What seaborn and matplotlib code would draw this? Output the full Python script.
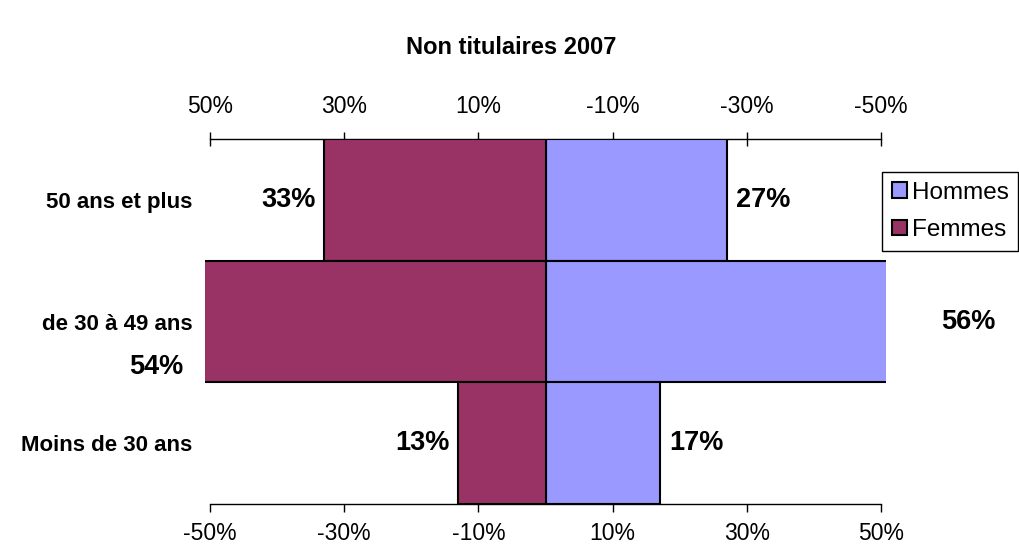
import pandas as pd
import matplotlib.pyplot as plt
import seaborn as sns
from matplotlib.ticker import PercentFormatter

# data
categories = ["50 ans et plus", "de 30 à 49 ans", "Moins de 30 ans"]
hommes = [0.27, 0.56, 0.17]
femmes = [0.33, 0.54, 0.13]
ticks = [-0.5, -0.3, -0.1, 0.1, 0.3, 0.5]

colors = {"Hommes": "#9999FF", "Femmes": "#993366"}

sns.set_theme(style="white")
plt.rcParams["font.family"] = ["Liberation Sans", "DejaVu Sans"]
plt.rcParams["axes.unicode_minus"] = False
plt.rcParams["text.color"] = "black"
plt.rcParams["xtick.color"] = "black"
plt.rcParams["ytick.color"] = "black"

df = pd.DataFrame({
    "age": categories * 2,
    "sexe": ["Hommes"] * 3 + ["Femmes"] * 3,
    "part": hommes + [-v for v in femmes],
})

fig = plt.figure(figsize=(10.19, 5.5), dpi=100)
ax = fig.add_axes([0.2012, 0.0836, 0.6683, 0.6636])

sns.barplot(data=df, x="part", y="age", hue="sexe", order=categories,
            hue_order=["Hommes", "Femmes"], palette=colors, orient="h",
            dodge=False, width=1.0, saturation=1, edgecolor="black",
            linewidth=1.5, legend=False, ax=ax)

ax.set_xlim(-0.5075, 0.5075)
ax.set_ylim(2.5, -0.5)
ax.set_xlabel("")
ax.set_ylabel("")
ax.set_xticks(ticks)
ax.xaxis.set_major_formatter(PercentFormatter(1.0, decimals=0))
ax.tick_params(axis="x", direction="out", length=6, width=1, color="black",
               bottom=True, labelsize=16.5, pad=7)
ax.tick_params(axis="y", length=0, pad=9)
for lab in ax.get_yticklabels():
    lab.set_fontweight("bold")
    lab.set_fontsize(16)

for s in ["left", "right", "top"]:
    ax.spines[s].set_visible(False)
ax.spines["bottom"].set_bounds(-0.5, 0.5)
ax.spines["bottom"].set_color("black")
ax.spines["bottom"].set_linewidth(1)

# top axis with mirrored labels
sec = ax.secondary_xaxis("top", functions=(lambda x: -x, lambda x: -x))
sec.set_xticks(ticks)
sec.xaxis.set_major_formatter(PercentFormatter(1.0, decimals=0))
sec.tick_params(axis="x", direction="inout", length=10, width=1,
                color="black", labelsize=16.5, pad=10)
sec.spines["top"].set_bounds(-0.5, 0.5)
sec.spines["top"].set_color("black")
sec.spines["top"].set_linewidth(1)

# value labels
offsets_h = [(7, 0), (14, 0), (7, 0)]
offsets_f = [(-6, 0), (0, -33), (-6, 0)]
for i, (h, f) in enumerate(zip(hommes, femmes)):
    ax.annotate(f"{h:.0%}", xy=(h, i), xytext=offsets_h[i],
                textcoords="offset points", ha="left", va="center",
                fontsize=19.5, fontweight="bold", annotation_clip=False)
    ax.annotate(f"{f:.0%}", xy=(-f, i), xytext=offsets_f[i],
                textcoords="offset points", ha="right", va="center",
                fontsize=19.5, fontweight="bold", annotation_clip=False)

handles = [plt.Rectangle((0, 0), 1, 1, facecolor=colors[k], edgecolor="black",
                         linewidth=1.5) for k in ["Hommes", "Femmes"]]
leg = fig.legend(handles, ["Hommes", "Femmes"], loc="upper left",
                 bbox_to_anchor=(0.8656, 0.687), fontsize=17.5,
                 frameon=True, fancybox=False, framealpha=1,
                 handlelength=0.62, handleheight=0.62, handletextpad=0.2,
                 borderpad=0.4, labelspacing=0.62, borderaxespad=0)
leg.get_frame().set_edgecolor("black")
leg.get_frame().set_linewidth(1)

fig.text(0.502, 0.913, "Non titulaires 2007", ha="center", va="center",
         fontsize=17, fontweight="bold")

fig.savefig("out.png", dpi=100)
